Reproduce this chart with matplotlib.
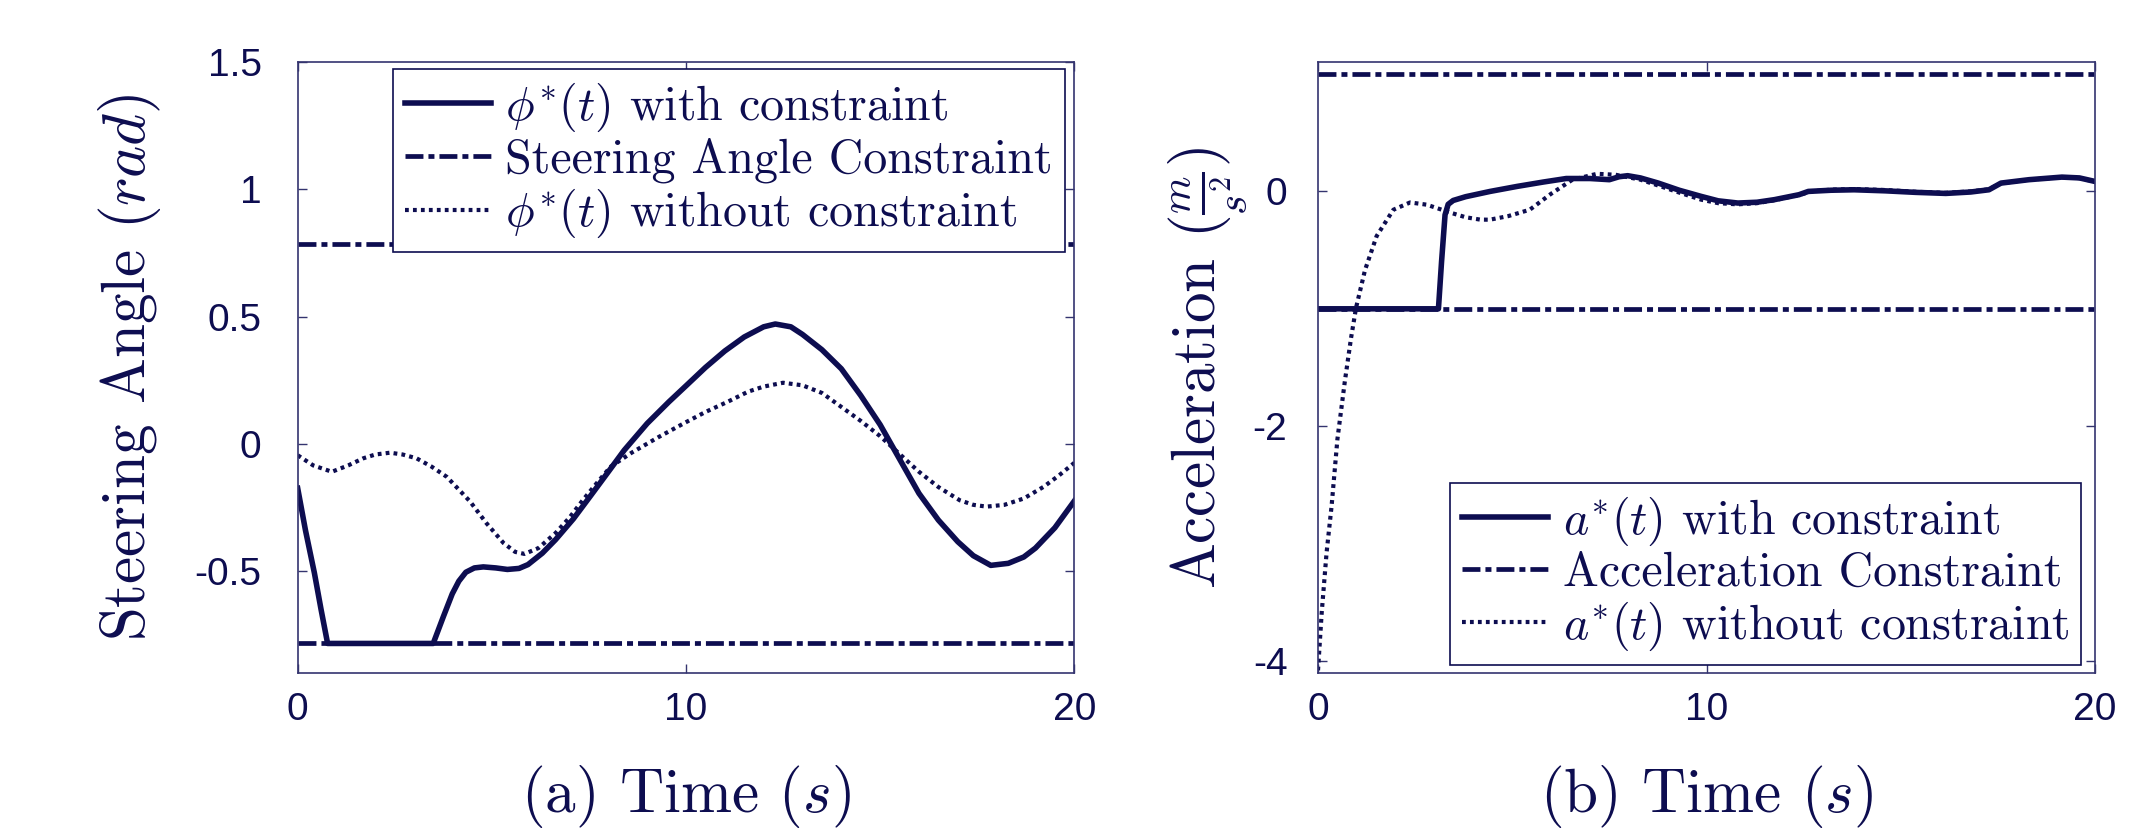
import matplotlib
matplotlib.use('Agg')
import matplotlib.pyplot as plt

plt.rcParams['mathtext.fontset'] = 'cm'
plt.rcParams['font.family'] = 'serif'
plt.rcParams['font.serif'] = ['cmr10']
plt.rcParams['axes.formatter.use_mathtext'] = True

NAVY = '#0d0d50'
SPINE = '#34346f'

# ---------------- data: steering angle (panel a) ----------------
t_phi_con = [0, 0.2, 0.43, 0.6, 0.77, 3.49, 3.75, 3.98, 4.15, 4.33, 4.55, 4.78, 5.1, 5.4,
             5.7, 5.93, 6.3, 6.64, 7.1, 7.53, 8.0, 8.41, 9.0, 9.56, 10.0, 10.5, 11.0, 11.5,
             12.0, 12.3, 12.7, 13.0, 13.5, 14.0, 14.5, 15.0, 15.5, 16.0, 16.5, 17.0, 17.4,
             17.85, 18.3, 18.7, 19.0, 19.5, 20.0]
phi_con = [-0.175, -0.34, -0.508, -0.65, -0.785, -0.785, -0.68, -0.59, -0.54, -0.505, -0.488,
           -0.484, -0.488, -0.494, -0.49, -0.475, -0.43, -0.377, -0.295, -0.207, -0.11, -0.025,
           0.08, 0.165, 0.228, 0.30, 0.365, 0.42, 0.46, 0.471, 0.46, 0.43, 0.37, 0.295, 0.19,
           0.075, -0.06, -0.195, -0.30, -0.385, -0.44, -0.478, -0.47, -0.445, -0.41, -0.33,
           -0.225]

t_phi_free = [0, 0.4, 0.88, 1.3, 1.69, 2.0, 2.38, 2.7, 3.06, 3.45, 3.84, 4.15, 4.44, 4.86,
              5.3, 5.6, 5.84, 6.2, 6.64, 7.0, 7.35, 7.7, 8.06, 8.6, 9.3, 10.0, 10.5, 11.07,
              11.6, 12.0, 12.5, 13.0, 13.5, 14.0, 14.5, 15.0, 15.5, 16.0, 16.5, 17.05, 17.4,
              17.74, 18.2, 18.7, 19.2, 19.6, 20.0]
phi_free = [-0.045, -0.085, -0.11, -0.085, -0.057, -0.042, -0.035, -0.042, -0.057, -0.09,
            -0.13, -0.18, -0.227, -0.312, -0.39, -0.425, -0.433, -0.41, -0.351, -0.29, -0.22,
            -0.155, -0.09, -0.035, 0.027, 0.085, 0.125, 0.165, 0.205, 0.225, 0.24, 0.23, 0.20,
            0.145, 0.09, 0.03, -0.04, -0.11, -0.17, -0.222, -0.24, -0.247, -0.24, -0.215,
            -0.17, -0.125, -0.075]

phi_limit = 0.785

# ---------------- data: acceleration (panel b) ----------------
t_acc_con = [0, 3.10, 3.18, 3.27, 3.35, 3.48, 3.8, 4.43, 5.13, 5.8, 6.39, 7.0, 7.5, 7.75,
             7.97, 8.3, 8.76, 9.3, 9.86, 10.3, 10.81, 11.3, 11.75, 12.38, 12.62, 13.2, 13.8,
             14.6, 15.38, 16.16, 16.8, 17.27, 17.58, 18.3, 19.15, 19.6, 20.0]
acc_con = [-1.0, -1.0, -0.6, -0.2, -0.11, -0.077, -0.045, 0.0, 0.043, 0.08, 0.11, 0.11, 0.10,
           0.125, 0.134, 0.115, 0.071, 0.01, -0.042, -0.08, -0.099, -0.092, -0.07, -0.028,
           0.0, 0.01, 0.014, 0.005, -0.008, -0.017, -0.005, 0.014, 0.071, 0.10, 0.122, 0.115,
           0.085]

t_acc_free = [0, 0.095, 0.22, 0.35, 0.5, 0.69, 0.85, 0.98, 1.21, 1.51, 1.94, 2.37, 2.80, 3.40,
              3.8, 4.17, 4.42, 4.9, 5.45, 6.0, 6.55, 7.18, 7.66, 8.3, 8.76, 9.3, 9.86, 10.3,
              10.8, 11.3, 11.75, 12.38, 12.7, 13.2, 13.8, 14.6, 15.38, 16.16, 16.8, 17.27,
              17.58, 18.3, 19.15, 19.6, 20.0]
acc_free = [-4.08, -3.59, -3.08, -2.68, -2.11, -1.62, -1.25, -0.99, -0.67, -0.38, -0.156,
            -0.094, -0.113, -0.18, -0.22, -0.24, -0.241, -0.21, -0.156, -0.02, 0.10, 0.15,
            0.142, 0.10, 0.05, -0.01, -0.07, -0.10, -0.11, -0.10, -0.075, -0.03, 0.0, 0.015,
            0.02, 0.012, -0.003, -0.012, 0.0, 0.018, 0.07, 0.10, 0.12, 0.113, 0.083]

acc_limit = 1.0

# ---------------- ticks ----------------
x_ticks = [0, 10, 20]
x_ticklabels = ['0', '10', '20']
phi_ticks = [-0.5, 0, 0.5, 1, 1.5]
phi_ticklabels = ['-0.5', '0', '0.5', '1', '1.5']
acc_ticks = [-4, -2, 0]
acc_ticklabels = ['-4', '-2', '0']

# ---------------- styles ----------------
DASHDOT = (0, (3.8, 1.06, 1.27, 1.06))
DOTTED = (0, (0.91, 1.0))
LW_SOLID = 4.0
LW_DD = 3.4
LW_DOT = 3.0
TICK_FONT = 'Liberation Sans'

W, H = 2149, 831
fig = plt.figure(figsize=(W / 100, H / 100), dpi=100)
ax1 = fig.add_axes([297.7 / W, (H - 672.7) / H, 776.6 / W, 610.4 / H])
ax2 = fig.add_axes([1318 / W, (H - 672.7) / H, 777 / W, 610.4 / H])


def style_axes(ax, yticks, yticklabels, ylim, ypad):
    ax.set_xlim(0, 20)
    ax.set_ylim(*ylim)
    ax.set_xticks(x_ticks)
    ax.set_xticklabels(x_ticklabels)
    ax.set_yticks(yticks)
    ax.set_yticklabels(yticklabels)
    ax.tick_params(direction='in', top=True, right=True, length=6.5, width=1.0,
                   color=SPINE, labelcolor=NAVY, labelsize=28)
    ax.tick_params(axis='x', pad=14)
    ax.tick_params(axis='y', pad=ypad)
    for lab in ax.get_xticklabels() + ax.get_yticklabels():
        lab.set_fontfamily(TICK_FONT)
    for sp in ax.spines.values():
        sp.set_color(SPINE)
        sp.set_linewidth(1.2)


# panel a
d1 = ax1.axhline(phi_limit, color=NAVY, lw=LW_DD, linestyle=DASHDOT, dash_capstyle='butt',
                 label='Steering Angle Constraint')
ax1.axhline(-phi_limit, color=NAVY, lw=LW_DD, linestyle=DASHDOT, dash_capstyle='butt')
s1, = ax1.plot(t_phi_con, phi_con, color=NAVY, lw=LW_SOLID, solid_joinstyle='round',
               label=r'$\phi^{*}(t)$ with constraint')
p1, = ax1.plot(t_phi_free, phi_free, color=NAVY, lw=LW_DOT, linestyle=DOTTED,
               dash_capstyle='butt', label=r'$\phi^{*}(t)$ without constraint')
style_axes(ax1, phi_ticks, phi_ticklabels, (-0.9, 1.5), 26)

# panel b
d2 = ax2.axhline(acc_limit, color=NAVY, lw=LW_DD, linestyle=DASHDOT, dash_capstyle='butt',
                 label='Acceleration Constraint')
ax2.axhline(-acc_limit, color=NAVY, lw=LW_DD, linestyle=DASHDOT, dash_capstyle='butt')
s2, = ax2.plot(t_acc_con, acc_con, color=NAVY, lw=LW_SOLID, solid_joinstyle='round',
               label=r'$a^{*}(t)$ with constraint')
p2, = ax2.plot(t_acc_free, acc_free, color=NAVY, lw=LW_DOT, linestyle=DOTTED,
               dash_capstyle='butt', label=r'$a^{*}(t)$ without constraint')
style_axes(ax2, acc_ticks, acc_ticklabels, (-4.1, 1.1), 22)

leg_kw = dict(fontsize=34.5, frameon=True, fancybox=False, edgecolor=NAVY, framealpha=1,
              labelcolor=NAVY, handlelength=1.8, handletextpad=0.3, labelspacing=0.08,
              borderpad=0.25, borderaxespad=0, bbox_transform=fig.transFigure)
leg1 = ax1.legend(handles=[s1, d1, p1], loc='upper right',
                  bbox_to_anchor=(1065 / W, 1 - 69 / H), **leg_kw)
leg2 = ax2.legend(handles=[s2, d2, p2], loc='lower right',
                  bbox_to_anchor=(2081 / W, 1 - 665 / H), **leg_kw)
for leg in (leg1, leg2):
    leg.get_frame().set_linewidth(1.2)

# axis labels
ax1.set_xlabel(r'(a) Time ($s$)', fontsize=44, color=NAVY)
ax2.set_xlabel(r'(b) Time ($s$)', fontsize=44, color=NAVY)
for ax in (ax1, ax2):
    ax.xaxis.label.set_verticalalignment('baseline')
    ax.xaxis.set_label_coords(0.5, (672.7 - 812) / 610.4)

ax1.set_ylabel(r'Steering Angle $(rad)$', fontsize=44, color=NAVY)
ax2.set_ylabel(r'Acceleration $(\frac{m}{s^{2}})$', fontsize=44, color=NAVY)
for ax in (ax1, ax2):
    ax.yaxis.label.set_verticalalignment('baseline')
ax1.yaxis.set_label_coords((145 - 297.7) / 776.6, 0.5)
ax2.yaxis.set_label_coords((1215 - 1318) / 777, 0.5)

fig.savefig('out.png', dpi=100)
